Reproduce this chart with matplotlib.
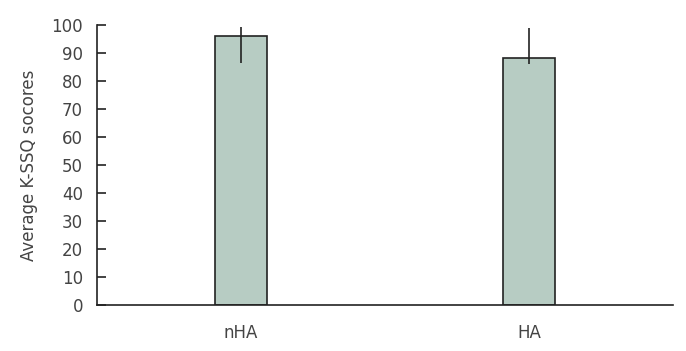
import matplotlib
matplotlib.use("Agg")
import matplotlib.pyplot as plt
import numpy as np

categories = ["nHA", "HA"]
means = [96.2, 88.1]
err_lower = [9.8, 2.0]
err_upper = [3.0, 10.8]
yticks = [0, 10, 20, 30, 40, 50, 60, 70, 80, 90, 100]

plt.rcParams['font.family'] = ['DejaVu Sans']
fig = plt.figure(figsize=(6.86, 3.51), dpi=100)
ax = fig.add_axes([97/686, 1-305/351, 576/686, 280/351])

x = np.arange(len(categories))
ax.bar(x, means, width=0.18, color="#b7ccc3", edgecolor="#222222", linewidth=1.2, zorder=2)
ax.errorbar(x, means, yerr=[err_lower, err_upper], fmt="none", ecolor="#222222",
            elinewidth=1.2, capsize=0, zorder=3)

ax.set_xlim(-0.5, 1.5)
ax.set_ylim(0, 100)
ax.set_yticks(yticks)
ax.set_xticks(x)
ax.set_xticklabels(categories)
ax.spines['top'].set_visible(False)
ax.spines['right'].set_visible(False)
for s in ['left', 'bottom']:
    ax.spines[s].set_linewidth(1.2)
    ax.spines[s].set_color("#222222")
ax.tick_params(axis='y', direction='in', length=6.5, width=1.2, color="#222222",
               labelsize=12, labelcolor="#444444", pad=10)
ax.tick_params(axis='x', length=0, labelsize=12, labelcolor="#444444", pad=14)
ax.set_ylabel("Average K-SSQ socores", fontsize=12, color="#444444", labelpad=10)

fig.savefig("out.png", dpi=100)
